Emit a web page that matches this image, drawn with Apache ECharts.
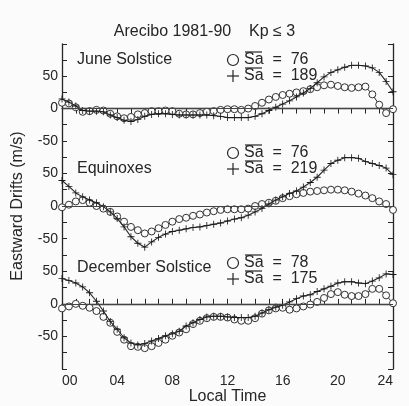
<!DOCTYPE html>
<html><head><meta charset="utf-8">
<script src="https://cdn.jsdelivr.net/npm/echarts@6/dist/echarts.min.js"></script>
<style>html,body{margin:0;padding:0;background:#fbfbfb}#c{width:409px;height:406px}</style>
</head><body><div id="c"></div>
<script>
// Local time (hours)
const hours = [0,0.5,1,1.5,2,2.5,3,3.5,4,4.5,5,5.5,6,6.5,7,7.5,8,8.5,9,9.5,10,10.5,11,11.5,12,12.5,13,13.5,14,14.5,15,15.5,16,16.5,17,17.5,18,18.5,19,19.5,20,20.5,21,21.5,22,22.5,23,23.5,24];
const xTickLabels = ['00','04','08','12','16','20','24'];
const panelNames = ['June Solstice','Equinoxes','December Solstice'];
const lowSa = ['76','76','78'];
const highSa = ['189','219','175'];
// June Solstice
const juneLow  = [9,8,2,-5,-4,-2,-3,-8,-12,-15,-13,-9,-7,-4,-4,-3,-4,-8,-9,-9,-7,-5,-4,-2,-1,-1,-2,0,4,9,14,18,21,23,25,27,30,33,36,37,35,33,32,33,34,22,6,-7,-1];
const juneHigh = [15,10,4,-3,-4,-4,-5,-10,-14,-18,-20,-17,-12,-9,-8,-8,-9,-10,-10,-10,-10,-10,-11,-12,-14,-14,-14,-14,-12,-8,-3,2,7,12,18,24,31,40,49,56,60,64,67,67,66,63,56,42,26];
// Equinoxes
const equiLow  = [-2,2,7,9,5,0,-4,-9,-16,-24,-32,-37,-42,-39,-34,-29,-24,-20,-18,-15,-13,-10,-8,-6,-5,-5,-5,-4,0,3,5,8,12,15,18,20,22,23,24,25,25,24,22,19,16,12,7,3,-6];
const equiHigh = [39,30,20,14,9,5,-1,-9,-19,-32,-47,-57,-63,-55,-48,-43,-39,-37,-35,-33,-32,-30,-28,-26,-23,-20,-18,-14,-9,-4,3,9,14,19,23,29,36,44,55,65,70,74,74,73,68,65,62,58,48];
// December Solstice
const decLow  = [-7,-4,0,-3,-6,-11,-20,-29,-43,-55,-65,-66,-68,-65,-60,-55,-49,-44,-39,-31,-26,-22,-20,-20,-21,-24,-26,-26,-22,-15,-10,-7,-6,-9,-7,-4,-1,3,9,15,18,14,12,12,15,23,23,13,1];
const decHigh = [39,36,32,26,17,4,-11,-27,-39,-52,-60,-63,-61,-57,-53,-49,-46,-42,-34,-29,-24,-20,-19,-19,-20,-21,-21,-21,-19,-14,-9,-5,-2,3,8,12,14,19,23,27,32,34,34,32,31,35,40,46,45];

const lowSets = [juneLow, equiLow, decLow];
const highSets = [juneHigh, equiHigh, decHigh];

const INK = '#262626';
const FONT = 'Liberation Sans';
const grids = [
  {left:62, right:16, top:44, height:113, ymin:-75, ymax:100},
  {left:62, right:16, top:157, height:98, ymin:-75, ymax:75},
  {left:62, right:16, top:255, height:117, ymin:-100, ymax:75}
];
const plusPath = 'path://M4.4,0H5.6V4.4H10V5.6H5.6V10H4.4V5.6H0V4.4H4.4Z';

const xAxes = [], yAxes = [], series = [];
grids.forEach((g, i) => {
  const tick = {show:true, inside:true, length:5, lineStyle:{color:INK, width:1}};
  const line = {show:true, lineStyle:{color:INK, width:1.3}};
  xAxes.push({
    gridIndex:i, type:'value', min:0, max:24, interval:1,
    position: i === 0 ? 'top' : 'bottom',
    show: i !== 1,
    axisLine:line, axisTick:tick, splitLine:{show:false},
    axisLabel: i === 2 ? {
      show:true, color:INK, fontSize:14, fontFamily:FONT, margin:5,
      alignMinLabel:'left', alignMaxLabel:'right',
      formatter: v => (v % 4 === 0 ? xTickLabels[v / 4] : '')
    } : {show:false},
    name: i === 2 ? 'Local Time' : '', nameLocation:'middle', nameGap:20,
    nameTextStyle:{color:INK, fontSize:16, fontFamily:FONT}
  });
  yAxes.push({
    gridIndex:i, type:'value', min:g.ymin, max:g.ymax, interval:25, position:'left',
    axisLine:line, axisTick:tick, splitLine:{show:false},
    axisLabel:{show:true, color:INK, fontSize:14, fontFamily:FONT, margin:4,
      formatter: v => (v % 50 === 0 && Math.abs(v) < 100 ? String(v) : '')},
    name: i === 1 ? 'Eastward Drifts (m/s)' : '', nameLocation:'middle', nameGap:36,
    nameTextStyle:{color:INK, fontSize:16, fontFamily:FONT}
  });
  yAxes.push({
    gridIndex:i, type:'value', min:g.ymin, max:g.ymax, interval:25, position:'right',
    axisLine:line, axisTick:tick, splitLine:{show:false}, axisLabel:{show:false}
  });
});
grids.forEach((g, i) => {
  series.push({
    type:'line', xAxisIndex:i, yAxisIndex:2*i,
    data: hours.map((h, k) => [h, lowSets[i][k]]),
    symbol:'circle', symbolSize:7, showSymbol:true,
    lineStyle:{color:INK, width:1},
    itemStyle:{color:'#fbfbfb', borderColor:'#333', borderWidth:1},
    markLine:{silent:true, symbol:'none', label:{show:false},
      lineStyle:{color:'#444', width:1, type:'solid'}, data:[{yAxis:0}]},
    z:3
  });
  series.push({
    type:'line', xAxisIndex:i, yAxisIndex:2*i,
    data: hours.map((h, k) => [h, highSets[i][k]]),
    symbol:plusPath, symbolSize:7, showSymbol:true,
    lineStyle:{color:INK, width:1.1},
    itemStyle:{color:'#1a1a1a'},
    z:4
  });
});

// annotation texts (panel names, Sa legends)
const panelY = [60, 169, 268];
const legY = [[60,76],[153,169],[263,279]];
const graphic = [{
  type:'text', left:'center', top:24,
  style:{text:'Arecibo 1981-90    Kp \u2264 3', fill:INK, font:'16px "Liberation Sans"'}
}];
panelNames.forEach((n, i) => {
  graphic.push({type:'text', x:77, y:panelY[i], style:{text:n, fill:INK, font:'16px "Liberation Sans"', textVerticalAlign:'middle'}});
  [[lowSa[i], 'o'], [highSa[i], '+']].forEach((e, r) => {
    const y = legY[i][r];
    if (e[1] === 'o') {
      graphic.push({type:'circle', shape:{cx:233, cy:y, r:5.5}, style:{fill:'none', stroke:INK, lineWidth:1.2}});
    } else {
      graphic.push({type:'line', shape:{x1:227, y1:y, x2:239, y2:y}, style:{stroke:INK, lineWidth:1.2}});
      graphic.push({type:'line', shape:{x1:233, y1:y-6, x2:233, y2:y+6}, style:{stroke:INK, lineWidth:1.2}});
    }
    graphic.push({type:'text', x:244, y:y, style:{text:'Sa  =  ' + e[0], fill:INK, font:'16px "Liberation Sans"', textVerticalAlign:'middle'}});
    graphic.push({type:'line', shape:{x1:245, y1:y-8, x2:262, y2:y-8}, style:{stroke:INK, lineWidth:1.2}});
  });
});

const chart = echarts.init(document.getElementById('c'), null, {renderer:'canvas'});
chart.setOption({
  backgroundColor:'#fbfbfb', animation:false,
  textStyle:{fontFamily:FONT},
  grid: grids.map(g => ({left:g.left, right:g.right, top:g.top, height:g.height})),
  xAxis:xAxes, yAxis:yAxes, series:series, graphic:graphic
});
</script>
</body></html>
